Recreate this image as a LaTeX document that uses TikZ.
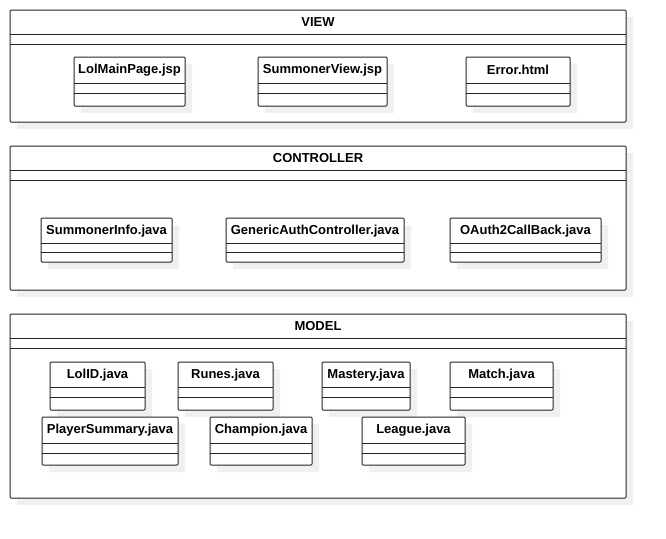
\documentclass[tikz,border=0pt]{standalone}
\usepackage{fontspec}
\setmainfont{Liberation Sans}
\usetikzlibrary{shadows}

\begin{document}
\begin{tikzpicture}[x=1pt,y=-1pt,
	box/.style={draw=black!85, line width=1pt, rounded corners=1pt, fill=white,
		anchor=north west, inner sep=0pt, outer sep=0pt,
		drop shadow={shadow xshift=7pt, shadow yshift=-7pt, fill=black!6, opacity=1}},
	pkg/.style={box, minimum width=616, minimum height=#1},
	cls/.style={box, minimum height=#1},
	pkgname/.style={anchor=north, minimum height=24, inner sep=0pt, font=\bfseries\fontsize{13}{15}\selectfont},
	clsname/.style={anchor=north, minimum height=26, inner sep=0pt, font=\bfseries\fontsize{13}{15}\selectfont},
	sep/.style={draw=black!85, line width=1pt}]
	\useasboundingbox[fill=white] (0,0) rectangle (666,538);
	% packages
	\node[pkg=112, label={[pkgname]north:VIEW}] (view) at (10,10) {};
	\node[pkg=144, label={[pkgname]north:CONTROLLER}] (ctrl) at (10,146) {};
	\node[pkg=184, label={[pkgname]north:MODEL}] (model) at (10,314) {};
	% view classes
	\node[cls=49, minimum width=111, label={[clsname]north:LolMainPage.jsp}] (lolmain) at (74,57) {};
	\node[cls=49, minimum width=129, label={[clsname]north:SummonerView.jsp}] (summview) at (258,57) {};
	\node[cls=49, minimum width=104, label={[clsname]north:Error.html}] (errpage) at (466,57) {};
	% controller classes
	\node[cls=44, minimum width=131, label={[clsname]north:SummonerInfo.java}] (suminfo) at (41,218) {};
	\node[cls=44, minimum width=178, label={[clsname]north:GenericAuthController.java}] (genauth) at (226,218) {};
	\node[cls=44, minimum width=151, label={[clsname]north:OAuth2CallBack.java}] (oauth) at (450,218) {};
	% model classes
	\node[cls=48, minimum width=95, label={[clsname]north:LolID.java}] (lolid) at (50,362) {};
	\node[cls=48, minimum width=95, label={[clsname]north:Runes.java}] (runes) at (178,362) {};
	\node[cls=48, minimum width=88, label={[clsname]north:Mastery.java}] (mastery) at (322,362) {};
	\node[cls=48, minimum width=103, label={[clsname]north:Match.java}] (match) at (450,362) {};
	\node[cls=48, minimum width=136, label={[clsname]north:PlayerSummary.java}] (playersum) at (42,417) {};
	\node[cls=48, minimum width=102, label={[clsname]north:Champion.java}] (champion) at (210,417) {};
	\node[cls=48, minimum width=103, label={[clsname]north:League.java}] (league) at (362,417) {};
	% compartment lines
	\foreach \n/\a/\b in {view/24/34, ctrl/24/34, model/24/34,
		lolmain/26/36, summview/26/36, errpage/26/36,
		suminfo/25/34, genauth/25/34, oauth/25/34,
		lolid/25/35, runes/25/35, mastery/25/35, match/25/35,
		playersum/26/36, champion/26/36, league/26/36} {
		\draw[sep] ([yshift=-\a pt]\n.north west) -- ([yshift=-\a pt]\n.north east);
		\draw[sep] ([yshift=-\b pt]\n.north west) -- ([yshift=-\b pt]\n.north east);
	}
\end{tikzpicture}
\end{document}
